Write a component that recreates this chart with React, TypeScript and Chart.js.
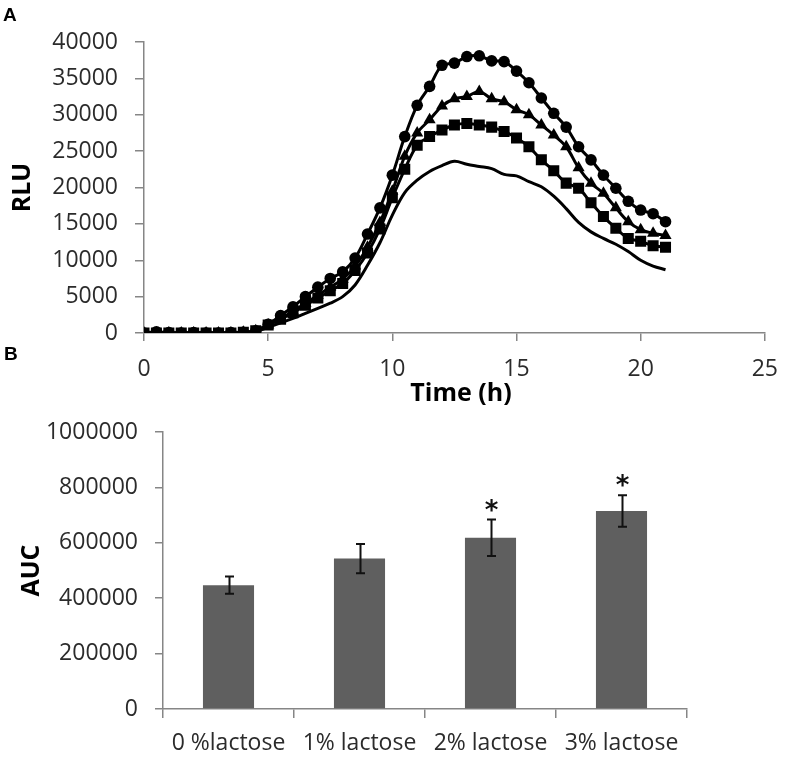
import React, { useEffect, useRef } from "react";
import { Chart, registerables } from "chart.js";

Chart.register(...registerables);

// ---------- Panel A data ----------
const TIMES = [0, 0.5, 1, 1.5, 2, 2.5, 3, 3.5, 4, 4.5, 5, 5.5, 6, 6.5, 7, 7.5, 8, 8.5, 9, 9.5, 10, 10.5, 11, 11.5, 12, 12.5, 13, 13.5, 14, 14.5, 15, 15.5, 16, 16.5, 17, 17.5, 18, 18.5, 19, 19.5, 20, 20.5, 21];
const RLU_CIRCLE = [0, 150, 50, 0, 50, 0, 0, 50, 100, 300, 1200, 2400, 3600, 5000, 6300, 7500, 8400, 10300, 13600, 17200, 21700, 27000, 31300, 33900, 36800, 37100, 38000, 38100, 37400, 37300, 36000, 34400, 32300, 30200, 28300, 25600, 23800, 21700, 19900, 18100, 16900, 16400, 15300];
const RLU_TRIANGLE = [0, 0, 0, 0, 0, 0, 0, 0, 100, 300, 1100, 2000, 3000, 4100, 5200, 6300, 7400, 9200, 11800, 15200, 19500, 24300, 27500, 29300, 31200, 32200, 32500, 33200, 32200, 31800, 30700, 30000, 28600, 27200, 25600, 22700, 20600, 19200, 17200, 15300, 14200, 13700, 13400];
const RLU_SQUARE = [0, 0, 0, 0, 0, 0, 0, 0, 100, 300, 1100, 1900, 2800, 3800, 4800, 5800, 6800, 8600, 11000, 14300, 18600, 22500, 25800, 27000, 27900, 28600, 28800, 28600, 28300, 27700, 26800, 25600, 23800, 22300, 20600, 19900, 17900, 16000, 14400, 13000, 12600, 12000, 11800];
const RLU_PLAIN = [0, 0, 0, 0, 0, 0, 0, 0, 0, 200, 800, 1400, 2000, 2700, 3400, 4100, 5000, 6600, 9300, 12400, 16200, 19300, 21000, 22200, 23000, 23600, 23200, 22900, 22600, 21800, 21600, 20800, 20100, 18800, 17100, 15200, 13900, 13000, 12200, 11200, 10000, 9200, 8700];

// ---------- Panel B data ----------
const CATEGORIES = ["0 %lactose", "1% lactose", "2% lactose", "3% lactose"];
const AUC_VALUES = [447000, 543000, 618000, 715000];
const AUC_ERRORS = [31000, 53000, 66000, 57000];
const SIGNIFICANCE = ["", "", "*", "*"];

const TICK_FONT = { family: '"Open Sans", sans-serif', size: 23 };
const AXIS_GRAY = "#868686";
const TICK_COLOR = "#2b2b2b";

function toXY(ys: number[]) {
  return ys.map((y, i) => ({ x: TIMES[i], y }));
}

const panelATextPlugin = {
  id: "panelAText",
  afterDraw(chart: any) {
    const ctx = chart.ctx;
    const area = chart.chartArea;
    ctx.save();
    ctx.fillStyle = "#000";
    ctx.textAlign = "left";
    ctx.textBaseline = "alphabetic";
    ctx.font = 'bold 19px "Liberation Sans", Arial, sans-serif';
    ctx.fillText("A", 3, 21);
    ctx.fillText("B", 4, 360);
    ctx.font = 'bold 25px "Open Sans", sans-serif';
    ctx.textAlign = "center";
    ctx.textBaseline = "middle";
    ctx.fillText("Time (h)", 461, 394);
    ctx.translate(23, (area.top + area.bottom) / 2);
    ctx.rotate(-Math.PI / 2);
    ctx.fillText("RLU", 0, 0);
    ctx.restore();
  },
};

const panelBPlugin = {
  id: "panelBExtras",
  afterDatasetsDraw(chart: any) {
    const ctx = chart.ctx;
    const yScale = chart.scales.y;
    const meta = chart.getDatasetMeta(0);
    ctx.save();
    ctx.strokeStyle = "#111";
    ctx.lineWidth = 2;
    meta.data.forEach((bar: any, i: number) => {
      const x = Math.round(bar.x) + 0.5;
      const top = yScale.getPixelForValue(AUC_VALUES[i] + AUC_ERRORS[i]);
      const bot = yScale.getPixelForValue(AUC_VALUES[i] - AUC_ERRORS[i]);
      ctx.beginPath();
      ctx.moveTo(x, top);
      ctx.lineTo(x, bot);
      ctx.moveTo(x - 4.5, top);
      ctx.lineTo(x + 4.5, top);
      ctx.moveTo(x - 4.5, bot);
      ctx.lineTo(x + 4.5, bot);
      ctx.stroke();
      if (SIGNIFICANCE[i]) {
        ctx.fillStyle = "#111";
        ctx.font = 'bold 26px "DejaVu Sans", sans-serif';
        ctx.textAlign = "center";
        ctx.textBaseline = "alphabetic";
        ctx.fillText(SIGNIFICANCE[i], x, top - 1);
      }
    });
    ctx.restore();
  },
  afterDraw(chart: any) {
    const ctx = chart.ctx;
    const area = chart.chartArea;
    ctx.save();
    ctx.fillStyle = "#000";
    ctx.font = 'bold 25px "Open Sans", sans-serif';
    ctx.textAlign = "center";
    ctx.textBaseline = "middle";
    ctx.translate(32, (area.top + area.bottom) / 2);
    ctx.rotate(-Math.PI / 2);
    ctx.fillText("AUC", 0, 0);
    ctx.restore();
  },
};

export default function App() {
  const topRef = useRef<HTMLCanvasElement>(null);
  const botRef = useRef<HTMLCanvasElement>(null);

  useEffect(() => {
    document.body.style.margin = "0";
    const lineCommon = {
      borderColor: "#000",
      backgroundColor: "#000",
      pointBorderColor: "#000",
      pointBackgroundColor: "#000",
      borderWidth: 3,
      tension: 0.35,
      pointBorderWidth: 0,
    };
    const top = new Chart(topRef.current as HTMLCanvasElement, {
      type: "line",
      data: {
        datasets: [
          { ...lineCommon, label: "square", data: toXY(RLU_SQUARE), pointStyle: "rect", pointRadius: 7.8 },
          { ...lineCommon, label: "triangle", data: toXY(RLU_TRIANGLE), pointStyle: "triangle", pointRadius: 7 },
          { ...lineCommon, label: "circle", data: toXY(RLU_CIRCLE), pointStyle: "circle", pointRadius: 5.8 },
          { ...lineCommon, label: "plain", data: toXY(RLU_PLAIN), pointRadius: 0 },
        ],
      },
      options: {
        responsive: false,
        animation: false,
        layout: { padding: { top: 42, right: 16, left: 0, bottom: 0 } },
        plugins: { legend: { display: false }, tooltip: { enabled: false } },
        scales: {
          x: {
            type: "linear",
            min: 0,
            max: 25,
            ticks: { stepSize: 5, font: TICK_FONT, color: TICK_COLOR, padding: 15, maxRotation: 0 },
            grid: { drawOnChartArea: false, drawTicks: true, tickLength: 8, color: AXIS_GRAY, lineWidth: 1.5 },
            border: { display: true, color: AXIS_GRAY, width: 1.5 },
            afterFit: (s: any) => { s.height = 79; },
          },
          y: {
            min: 0,
            max: 40000,
            ticks: { stepSize: 5000, font: TICK_FONT, color: TICK_COLOR, padding: 17, callback: (v: any) => String(v) },
            grid: { drawOnChartArea: false, drawTicks: true, tickLength: 9, color: AXIS_GRAY, lineWidth: 1.5 },
            border: { display: true, color: AXIS_GRAY, width: 1.5 },
            afterFit: (s: any) => { s.width = 144; s.paddingTop = 14; s.paddingBottom = 14; },
          },
        },
      },
      plugins: [panelATextPlugin],
    } as any);

    const bot = new Chart(botRef.current as HTMLCanvasElement, {
      type: "bar",
      data: {
        labels: CATEGORIES,
        datasets: [
          {
            label: "AUC",
            data: AUC_VALUES,
            backgroundColor: "#5f5f5f",
            borderColor: "#5a5a5a",
            borderWidth: 0,
            categoryPercentage: 1,
            barPercentage: 0.39,
          },
        ],
      },
      options: {
        responsive: false,
        animation: false,
        layout: { padding: { top: 22, right: 106, left: 0, bottom: 0 } },
        plugins: { legend: { display: false }, tooltip: { enabled: false } },
        scales: {
          x: {
            ticks: { font: TICK_FONT, color: TICK_COLOR, padding: 12, maxRotation: 0 },
            grid: { drawOnChartArea: false, drawTicks: true, tickLength: 9, color: AXIS_GRAY, lineWidth: 1.5, offset: true },
            border: { display: true, color: AXIS_GRAY, width: 1.5 },
            afterFit: (s: any) => { s.height = 53; },
          },
          y: {
            min: 0,
            max: 1000000,
            ticks: { stepSize: 200000, font: TICK_FONT, color: TICK_COLOR, padding: 17, callback: (v: any) => String(v) },
            grid: { drawOnChartArea: false, drawTicks: true, tickLength: 8, color: AXIS_GRAY, lineWidth: 1.5 },
            border: { display: true, color: AXIS_GRAY, width: 1.5 },
            afterFit: (s: any) => { s.width = 163; s.paddingTop = 14; s.paddingBottom = 14; },
          },
        },
      },
      plugins: [panelBPlugin],
    } as any);

    return () => {
      top.destroy();
      bot.destroy();
    };
  }, []);

  return (
    <div style={{ position: "absolute", left: 0, top: 0, width: 793, height: 762, overflow: "hidden", background: "#fff" }}>
      <canvas ref={topRef} width={793} height={412} style={{ position: "absolute", left: 0, top: 0 }} />
      <canvas ref={botRef} width={793} height={352} style={{ position: "absolute", left: 0, top: 410 }} />
    </div>
  );
}
